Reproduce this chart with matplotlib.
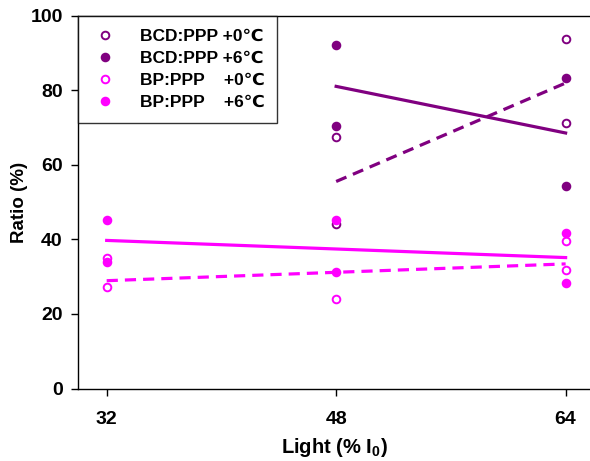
import matplotlib
matplotlib.use("Agg")
import matplotlib.pyplot as plt

plt.rcParams['font.family'] = ['Liberation Sans', 'DejaVu Sans']
plt.rcParams['font.weight'] = 'bold'
plt.rcParams['mathtext.fontset'] = 'custom'
plt.rcParams['mathtext.rm'] = 'Liberation Sans:bold'
plt.rcParams['mathtext.it'] = 'Liberation Sans:bold'
plt.rcParams['mathtext.bf'] = 'Liberation Sans:bold'

# ---- data ----
bcd0_x = [48, 48, 64, 64]
bcd0_y = [67.5, 44.1, 93.7, 71.2]
bcd6_x = [48, 48, 64, 64]
bcd6_y = [92.0, 70.5, 83.3, 54.2]
bp0_x = [32, 32, 48, 64, 64]
bp0_y = [35.0, 27.2, 24.1, 39.6, 31.8]
bp6_x = [32, 32, 48, 48, 64, 64]
bp6_y = [45.2, 33.9, 45.2, 31.2, 41.7, 28.2]

# trend lines (endpoints)
bcd0_fit_x = [48, 64]
bcd0_fit_y = [55.5, 81.9]
bcd6_fit_x = [48, 64]
bcd6_fit_y = [81.0, 68.5]
bp0_fit_x = [32, 64]
bp0_fit_y = [28.9, 33.4]
bp6_fit_x = [32, 64]
bp6_fit_y = [39.7, 35.1]

labels = ['BCD:PPP +0\u2103', 'BCD:PPP +6\u2103',
          'BP:PPP    +0\u2103', 'BP:PPP    +6\u2103']
xticks = [32, 48, 64]
yticks = [0, 20, 40, 60, 80, 100]

PURPLE = '#800080'
MAGENTA = '#FF00FF'

fig = plt.figure(figsize=(5.9, 4.61), dpi=100)
ax = fig.add_axes([78/590, 72.5/461, 1 - 78/590, 373/461])

lw = 2.3
ax.plot(bcd0_fit_x, bcd0_fit_y, color=PURPLE, lw=lw, ls=(0, (3.5, 2.2)), zorder=2)
ax.plot(bcd6_fit_x, bcd6_fit_y, color=PURPLE, lw=lw, zorder=2)
ax.plot(bp0_fit_x, bp0_fit_y, color=MAGENTA, lw=lw, ls=(0, (3.5, 2.2)), zorder=2)
ax.plot(bp6_fit_x, bp6_fit_y, color=MAGENTA, lw=lw, zorder=2)

ms = 5.5
mew = 1.4
ax.plot(bcd0_x, bcd0_y, ls='none', marker='o', ms=ms, mfc='white', mec=PURPLE, mew=mew, label=labels[0], zorder=3)
ax.plot(bcd6_x, bcd6_y, ls='none', marker='o', ms=ms, mfc=PURPLE, mec=PURPLE, mew=mew, label=labels[1], zorder=3)
ax.plot(bp0_x, bp0_y, ls='none', marker='o', ms=ms, mfc='white', mec=MAGENTA, mew=mew, label=labels[2], zorder=3)
ax.plot(bp6_x, bp6_y, ls='none', marker='o', ms=ms, mfc=MAGENTA, mec=MAGENTA, mew=mew, label=labels[3], zorder=3)

ax.set_xlim(30.0, 65.7)
ax.set_ylim(0, 100)
ax.set_xticks(xticks)
ax.set_yticks(yticks)
ax.tick_params(direction='out', length=5, width=1, labelsize=14)
ax.tick_params(axis='y', pad=6)
ax.tick_params(axis='x', pad=11)
for lab in ax.get_xticklabels() + ax.get_yticklabels():
    lab.set_fontweight('bold')
ax.spines['right'].set_visible(False)
for s in ['left', 'bottom', 'top']:
    ax.spines[s].set_linewidth(1.0)

ax.set_xlabel(r'Light (% I$\mathrm{_0}$)', fontsize=14.5, fontweight='bold', labelpad=6)
ax.set_ylabel('Ratio (%)', fontsize=13.5, fontweight='bold', labelpad=2)

leg = ax.legend(loc='upper left', bbox_to_anchor=(0, 1), borderaxespad=0,
                fancybox=False, frameon=True, edgecolor='black',
                prop={'size': 12.5, 'weight': 'bold'},
                handlelength=1.6, handletextpad=1.2, borderpad=0.75,
                labelspacing=0.4)
leg.get_frame().set_linewidth(1.0)

fig.savefig('out.png', dpi=100)
